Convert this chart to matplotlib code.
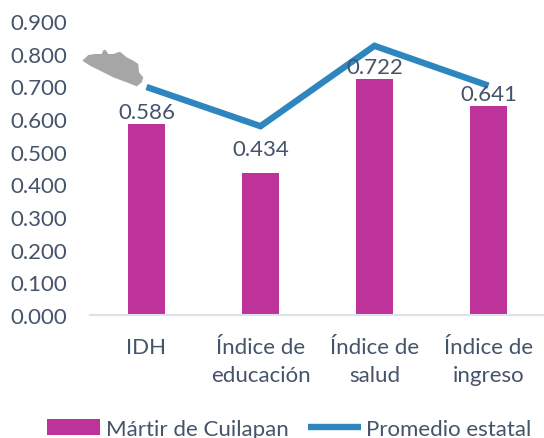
import matplotlib
matplotlib.use("Agg")
import matplotlib.pyplot as plt
from matplotlib.patches import Polygon

categories = ["IDH", "Índice de\neducación", "Índice de\nsalud", "Índice de\ningreso"]
local_values = [0.586, 0.434, 0.722, 0.641]
state_values = [0.698, 0.578, 0.824, 0.702]
yticks = [0.0, 0.1, 0.2, 0.3, 0.4, 0.5, 0.6, 0.7, 0.8, 0.9]
map_shape = [(37, 95), (55, 78), (75, 75), (95, 75), (100, 64), (106, 62), (115, 75), (130, 75), (150, 68),
             (170, 85), (190, 95), (205, 105), (207, 130), (220, 145), (215, 160), (200, 172),
             (170, 160), (130, 145), (90, 125), (60, 110)]
label_gaps_px = [2, 14, 2, 2]

plt.rcParams['font.family'] = ['Lato', 'DejaVu Sans']
TXT = "#44546A"
W, H = 544, 439
fig = plt.figure(figsize=(W/100, H/100), dpi=100)
ax = fig.add_axes([89.5/W, 1-316/H, 456/W, 294/H])
x = range(len(categories))
bars = ax.bar(x, local_values, width=0.325, color="#BD3399", label="Mártir de Cuilapan")
line, = ax.plot(x, state_values, color="#2E86BE", lw=4.6, label="Promedio estatal",
                solid_joinstyle='miter', solid_capstyle='butt')
for i, v, gap in zip(x, local_values, label_gaps_px):
    ax.annotate(f"{v:.3f}", (i, v), xytext=(0, gap*0.72), textcoords='offset points',
                ha='center', va='bottom', fontsize=16, color=TXT)
ax.set_xlim(-0.5, 3.5)
ax.set_ylim(0, 0.9)
ax.set_yticks(yticks, [f"{t:.3f}" for t in yticks], fontsize=16, color=TXT)
ax.set_xticks(list(x), categories, fontsize=16, color=TXT, linespacing=1.55)
ax.tick_params(axis='x', length=0, pad=15.5)
ax.tick_params(axis='y', length=0, pad=16)
for s in ['top', 'right', 'left']:
    ax.spines[s].set_visible(False)
ax.spines['bottom'].set_color("#DDE2E8")
ax.spines['bottom'].set_linewidth(1.5)
leg = fig.legend(handles=[bars, line], loc='lower left', bbox_to_anchor=(47/W, -1/H), ncol=2, frameon=False,
           fontsize=16, labelcolor=TXT, handlelength=2.4, columnspacing=0.85, handletextpad=0.25,
           borderaxespad=0, borderpad=0)
fig.add_artist(Polygon([((70+px/3)/W, 1-(30+py/3)/H) for px, py in map_shape], closed=True,
                       transform=fig.transFigure, facecolor="#A6A6A6", edgecolor="none", zorder=5))
fig.savefig("out.png", dpi=100)
